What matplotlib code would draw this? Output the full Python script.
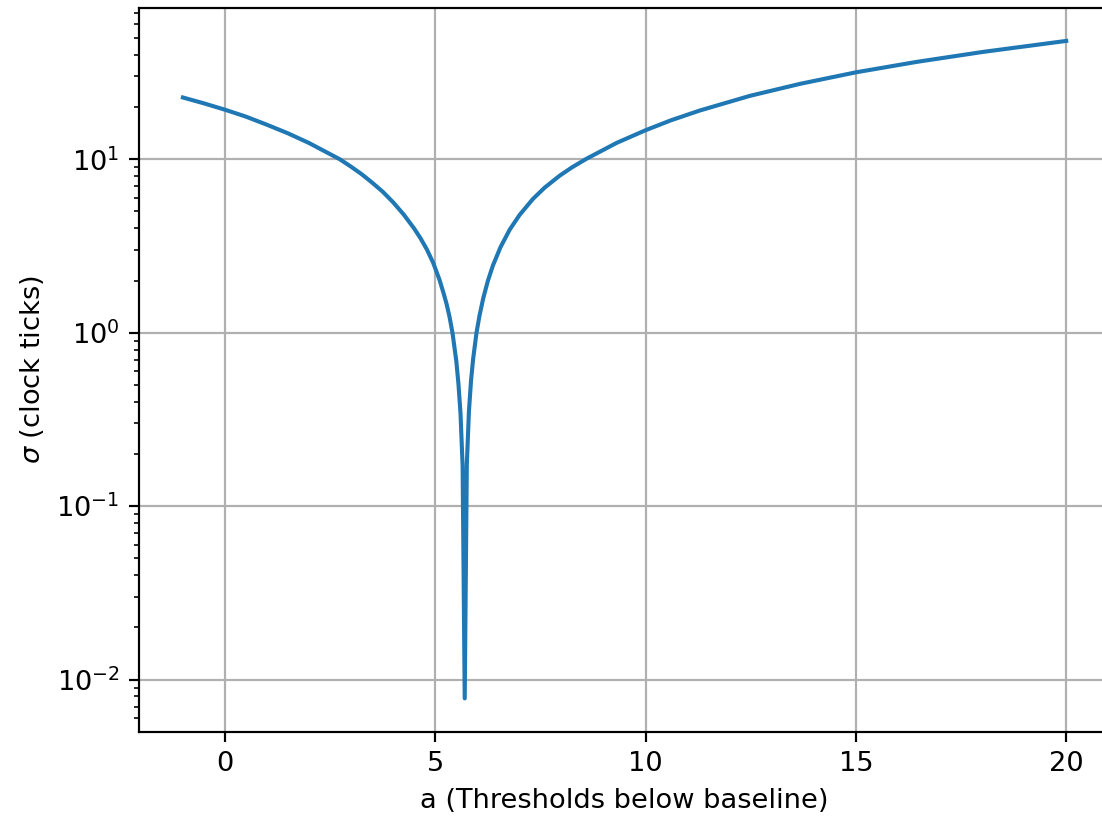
import matplotlib
matplotlib.use("Agg")
import matplotlib.pyplot as plt

# Values (smoothed readings)
a_values = [-1.0, -0.5, 0.0, 0.5, 1.0, 1.5, 2.0, 2.5, 2.73, 3.0, 3.25, 3.5,
            3.75, 4.0, 4.25, 4.5, 4.65, 4.8, 4.95, 5.1, 5.2, 5.27, 5.34, 5.41,
            5.5, 5.55, 5.6, 5.65, 5.70, 5.75, 5.8, 5.85, 5.9, 5.98, 6.05, 6.14,
            6.25, 6.37, 6.55, 6.77, 7.0, 7.32, 7.6, 7.96, 8.25, 8.59, 9.31,
            10.0, 10.6, 11.29, 12.48, 13.67, 15.0, 16.44, 18.03, 20.0]
sigma_values = [22.7, 21.0, 19.3, 17.6, 15.8, 14.1, 12.4, 10.7, 10.0, 9.05,
                8.2, 7.33, 6.5, 5.64, 4.8, 3.98, 3.5, 3.02, 2.53, 2.02, 1.68,
                1.46, 1.23, 0.995, 0.686, 0.51, 0.343, 0.17, 0.0078, 0.175,
                0.352, 0.53, 0.706, 1.0, 1.25, 1.58, 1.99, 2.44, 3.11, 3.93,
                4.76, 5.90, 6.86, 8.05, 8.98, 10.05, 12.42, 14.7, 16.76, 19.1,
                23.2, 27.2, 31.7, 36.4, 41.6, 48.1]

dpi = 196
fig = plt.figure(figsize=(1102 / dpi, 817 / dpi), dpi=dpi)
ax = fig.add_axes([0.1259, 0.1044, 0.8817, 0.8854])
ax.plot(a_values, sigma_values, color="#1f77b4", linewidth=1.5)
ax.set_yscale("log")
ax.set_xlim(-2.05, 21.05)
ax.set_ylim(10 ** -2.30, 10 ** 1.87)
ax.grid(True)
ax.set_xlabel("a (Thresholds below baseline)")
ax.set_ylabel(r"$\sigma$ (clock ticks)")
fig.savefig("out.png", dpi=dpi)
